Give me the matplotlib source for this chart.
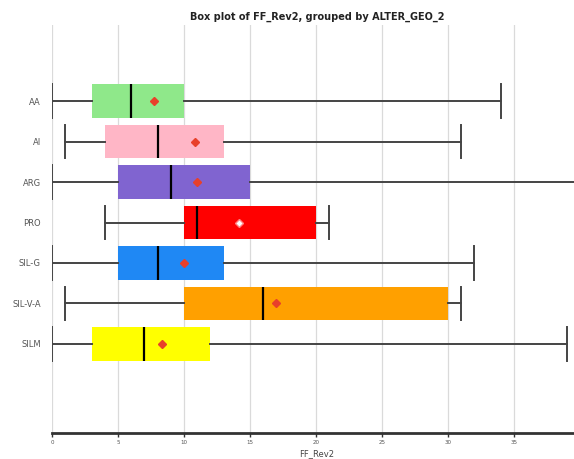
import matplotlib
matplotlib.use("Agg")
import matplotlib.pyplot as plt

# group stats
groups = ["AA", "AI", "ARG", "PRO", "SIL-G", "SIL-V-A", "SILM"]
whislo = [0, 1, 0, 4, 0, 1, 0]
q1 = [3, 4, 5, 10, 5, 10, 3]
med = [6, 8, 9, 11, 8, 16, 7]
q3 = [10, 13, 15, 20, 13, 30, 12]
whishi = [34, 31, 42, 21, 32, 31, 39]
means = [7.75, 10.8, 11.0, 14.2, 10.0, 17.0, 8.3]
colors = ["#8fe88a", "#ffb6c6", "#8064d0", "#ff0000", "#1f88f4", "#ffa000", "#ffff00"]

stats = []
for i, g in enumerate(groups):
    stats.append(dict(label=g, whislo=whislo[i], q1=q1[i], med=med[i],
                      q3=q3[i], whishi=whishi[i], mean=means[i], fliers=[]))

fig = plt.figure(figsize=(5.74, 4.59), dpi=100)
ax = fig.add_axes([52 / 574, 1 - 433 / 459, 530 / 574, 408 / 459])

pos = list(range(len(groups)))
bp = ax.bxp(stats, positions=pos, vert=False, widths=0.82, patch_artist=True,
            showmeans=True, showcaps=True,
            boxprops=dict(linewidth=0),
            medianprops=dict(color="black", linewidth=1.6),
            whiskerprops=dict(color="#444444", linewidth=1.4),
            capprops=dict(color="#444444", linewidth=1.4),
            capwidths=0.82,
            meanprops=dict(marker="D", markersize=4, markerfacecolor="#e8402a",
                           markeredgecolor="#e8402a"))
for patch, c in zip(bp["boxes"], colors):
    patch.set_facecolor(c)
# PRO mean sits on a red box, drawn hollow
bp["means"][3].set_markerfacecolor("white")
bp["means"][3].set_markeredgecolor("#ff8080")

ax.set_xlim(0, 40.15)
ax.set_ylim(8.2, -1.88)
ax.set_xticks([0, 5, 10, 15, 20, 25, 30, 35])
ax.tick_params(axis="x", labelsize=4, colors="#333333", length=3, width=1,
               labelcolor="#555555", pad=2)
ax.tick_params(axis="y", labelsize=6, length=0, labelcolor="#555555", pad=8)
ax.grid(axis="x", color="#dadada", linewidth=0.9)
ax.set_axisbelow(True)
for s in ["top", "right", "left"]:
    ax.spines[s].set_visible(False)
ax.spines["bottom"].set_linewidth(2)
ax.spines["bottom"].set_color("#333333")

ax.set_xlabel("FF_Rev2", fontsize=6, color="#444444", labelpad=3)
ax.set_title("Box plot of FF_Rev2, grouped by ALTER_GEO_2", fontsize=7,
             fontweight="bold", color="#222222", pad=4)

fig.savefig("out.png", dpi=100)
